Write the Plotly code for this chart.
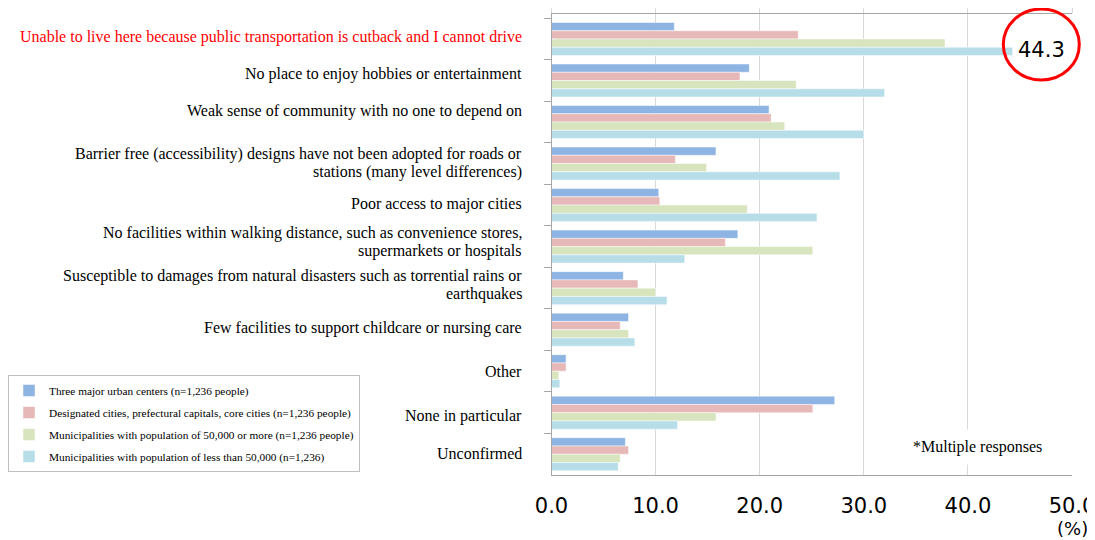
import plotly.graph_objects as go

categories = [
    "Unable to live here because public transportation is cutback and I cannot drive",
    "No place to enjoy hobbies or entertainment",
    "Weak sense of community with no one to depend on",
    "Barrier free (accessibility) designs have not been adopted for roads or<br>stations (many level differences)",
    "Poor access to major cities",
    "No facilities within walking distance, such as convenience stores,<br>supermarkets or hospitals",
    "Susceptible to damages from natural disasters such as torrential rains or<br>earthquakes",
    "Few facilities to support childcare or nursing care",
    "Other",
    "None in particular",
    "Unconfirmed",
]

series_names = [
    "Three major urban centers (n=1,236 people)",
    "Designated cities, prefectural capitals, core cities (n=1,236 people)",
    "Municipalities with population of 50,000 or more (n=1,236 people)",
    "Municipalities with population of less than 50,000 (n=1,236)",
]

three_major = [11.8, 19.0, 20.9, 15.8, 10.3, 17.9, 6.9, 7.4, 1.4, 27.2, 7.1]
designated = [23.7, 18.1, 21.1, 11.9, 10.4, 16.7, 8.3, 6.6, 1.4, 25.1, 7.4]
over_50k = [37.8, 23.5, 22.4, 14.9, 18.8, 25.1, 10.0, 7.4, 0.7, 15.8, 6.6]
under_50k = [44.3, 32.0, 30.0, 27.7, 25.5, 12.8, 11.1, 8.0, 0.8, 12.1, 6.4]

series_values = [three_major, designated, over_50k, under_50k]
colors = ["#8EB4E3", "#E6B9B8", "#D7E4BD", "#B7DEE8"]

x_max = 50
x_ticks = [0, 10, 20, 30, 40, 50]
x_ticktext = ["0.0", "10.0", "20.0", "30.0", "40.0", "50.0"]

# style: vertical nudge (px, + = down) of each category label, and label colours
label_dy = [-2, -7, -11, -0.5, -1, -4.5, -3, -2, 0, 3, -1]
label_colors = ["#FF0000"] + ["#000000"] * 10

# the page body has an 8px margin, so the figure is drawn 8px in from the corner
OFF = 8
W, H = 1095 - OFF, 540 - OFF


def px(x):
    return (x - OFF) / W


def py(y):
    return 1 - (y - OFF) / H


x_dom = [px(551), px(1072)]
y_dom = [py(475), py(14)]


def xpaper(v):
    return x_dom[0] + (x_dom[1] - x_dom[0]) * v / x_max


fig = go.Figure()
for i, (name, vals, col) in enumerate(zip(series_names, series_values, colors)):
    fig.add_trace(go.Bar(
        y=categories, x=vals, name=name, orientation="h",
        marker=dict(color=col, line=dict(width=0.6, color="rgba(255,255,255,0.8)")),
        legendgroup=f"g{i}", hoverinfo="x+name",
    ))

# transparent trace so the top (mirror) axis is drawn
fig.add_trace(go.Bar(y=[categories[0]], x=[0], xaxis="x2", showlegend=False,
                     hoverinfo="skip", marker=dict(color="rgba(0,0,0,0)")))

fig.update_layout(
    width=W, height=H, autosize=False,
    margin=dict(l=0, r=0, t=0, b=0, pad=0),
    paper_bgcolor="white", plot_bgcolor="white",
    barmode="group", bargap=0.205, bargroupgap=0,
    showlegend=True,
    legend=dict(
        xref="paper", yref="paper", x=px(7), y=py(375),
        xanchor="left", yanchor="top",
        bordercolor="#BFBFBF", borderwidth=1, bgcolor="white",
        font=dict(family="Liberation Serif", size=11.3, color="#000"),
        traceorder="grouped", tracegroupgap=3,
    ),
    xaxis=dict(
        domain=x_dom, range=[0, x_max], tickvals=x_ticks, ticktext=x_ticktext,
        showgrid=True, gridcolor="#D9D9D9", gridwidth=1,
        showline=True, linecolor="#A6A6A6", linewidth=1,
        ticks="", zeroline=False, tickangle=0, automargin=False,
        tickfont=dict(family="DejaVu Sans", size=21, color="#000"),
        ticklabelstandoff=12, ticklabeloverflow="allow",
    ),
    xaxis2=dict(
        overlaying="x", matches="x", side="top", range=[0, x_max],
        tickvals=x_ticks, showticklabels=False, showgrid=False,
        showline=True, linecolor="#A6A6A6", linewidth=1,
        ticks="outside", ticklen=7, tickcolor="#D9D9D9", zeroline=False,
        automargin=False,
    ),
    yaxis=dict(
        domain=y_dom,
        type="category", categoryorder="array", categoryarray=categories,
        autorange="reversed", showticklabels=False,
        tickson="boundaries", ticks="outside", ticklen=7, tickcolor="#A6A6A6",
        showline=True, linecolor="#A6A6A6", linewidth=1,
        showgrid=False, zeroline=False, automargin=False,
    ),
)

# category labels (right-aligned, tight line spacing for wrapped labels)
line_gap = 18
for cat, dy, col in zip(categories, label_dy, label_colors):
    lines = cat.split("<br>")
    n = len(lines)
    for k, line in enumerate(lines):
        off = dy + (k - (n - 1) / 2) * line_gap
        fig.add_annotation(
            x=px(523), y=cat, xref="paper", yref="y",
            text=line, showarrow=False, xanchor="right", yanchor="middle",
            yshift=-off,
            font=dict(family="Liberation Serif", size=16, color=col),
        )

# highlight of the largest value
hl = under_50k[0]
fig.add_annotation(
    x=hl, y=categories[0], xref="x", yref="y",
    text=f"{hl:.1f}", showarrow=False, xanchor="left", yanchor="middle",
    xshift=3, yshift=-11, font=dict(family="DejaVu Sans", size=21, color="#000"),
)
fig.add_shape(
    type="circle", xref="paper", yref="paper",
    x0=xpaper(hl - 0.9), x1=xpaper(hl + 6.4), y0=py(80), y1=py(9),
    line=dict(color="#FF0000", width=3), layer="above",
)

fig.add_annotation(
    x=px(977), y=py(447), xref="paper", yref="paper",
    text="*Multiple responses", showarrow=False,
    xanchor="center", yanchor="middle",
    bgcolor="white", borderpad=8,
    font=dict(family="Liberation Serif", size=16, color="#000"),
)
fig.add_annotation(
    x=px(1055), y=py(528), xref="paper", yref="paper",
    text="(%)", showarrow=False, xanchor="left", yanchor="middle",
    font=dict(family="DejaVu Sans", size=18, color="#000"),
)

fig.write_html("out.html")
